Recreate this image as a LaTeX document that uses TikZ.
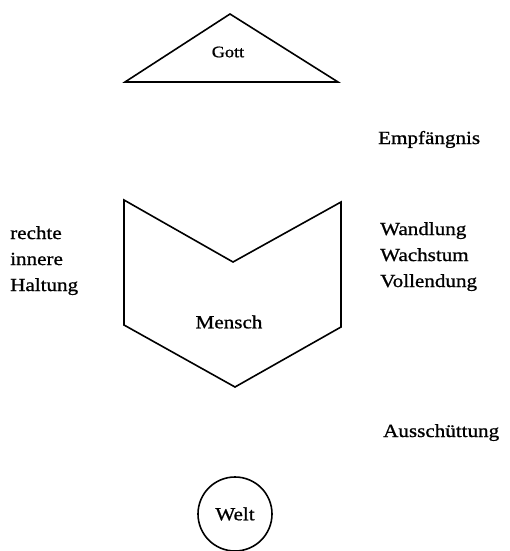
\documentclass[tikz,border=0pt]{standalone}
\usepackage{fontspec}
\newfontfamily\diafont{Liberation Serif}[FakeStretch=1.14, FakeBold=0.9]
\usepackage{tikz}
\usetikzlibrary{positioning}

\begin{document}
\begin{tikzpicture}[
        x=1pt, y=-1pt,
        form/.style={draw, line width=1.6pt, line join=miter},
        randtext/.style={font=\diafont\fontsize{18.5}{26}\selectfont, inner sep=0pt, align=left},
        titel/.style={font=\diafont\fontsize{18.5}{21}\selectfont, inner sep=0pt}
    ]
    \useasboundingbox (0,0) rectangle (510,551);

    % Gott (Dreieck)
    \draw[form] (230,14) -- (338,82) -- (125,82) -- cycle;
    \node[titel, font=\diafont\fontsize{16}{18}\selectfont] (gott) at (228,52) {Gott};

    % Mensch (Schale)
    \draw[form] (124,200) -- (233,262) -- (341,202) -- (341,327) -- (235,387) -- (124,325) -- cycle;
    \node[titel] (mensch) at (229,322) {Mensch};

    % Welt (Kreis)
    \node[titel, draw, circle, line width=1.6pt, minimum size=74pt] (welt) at (235,514) {Welt};

    % Beschriftungen rechts
    \node[randtext, anchor=base west] (empf) at (378,144) {Empfängnis};
    \node[randtext, anchor=north west] (wandlung) at (380,222) {Wandlung\\Wachstum\\Vollendung};
    \node[randtext, anchor=base west] (aussch) at (383,437) {Ausschüttung};

    % Beschriftung links
    \node[randtext, anchor=north west] (haltung) at (10,226) {rechte\\innere\\Haltung};
\end{tikzpicture}
\end{document}
